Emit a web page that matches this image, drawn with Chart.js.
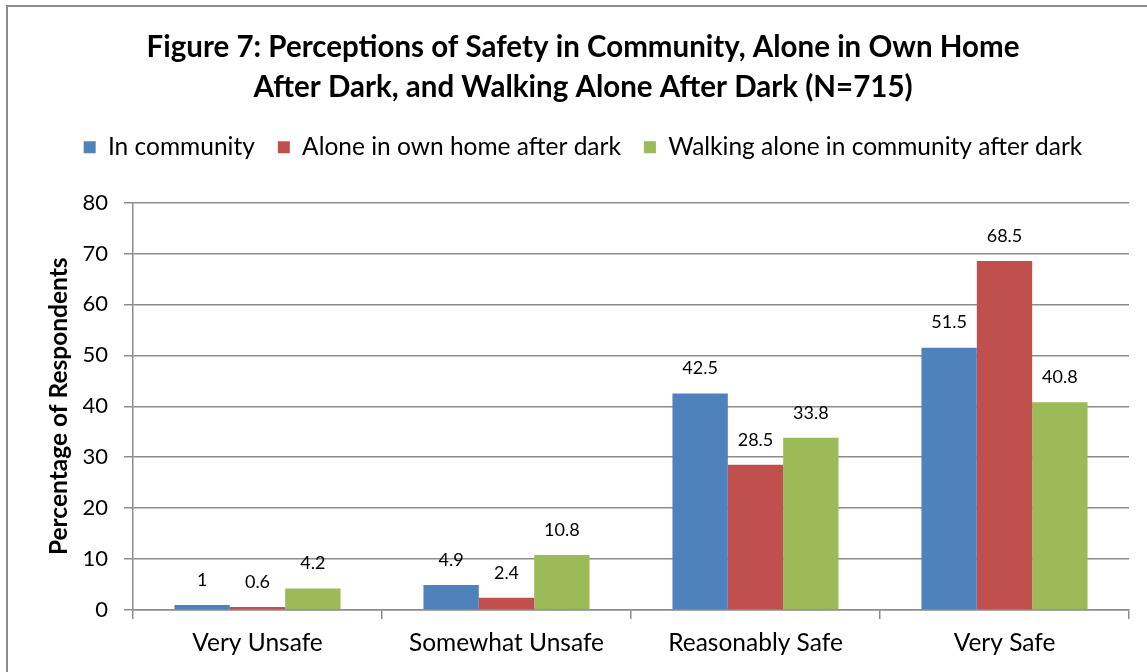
<!DOCTYPE html>
<html>
<head>
<meta charset="utf-8">
<script src="https://cdn.jsdelivr.net/npm/chart.js@4"></script>
<style>
  html, body { margin: 0; padding: 0; background: #fff; overflow: hidden; }
  .frame {
    position: absolute; left: 6px; top: 5px; width: 1200px; height: 720px;
    border: 2px solid #8c8c8c; box-sizing: border-box;
  }
  .wrap { position: absolute; left: 0; top: 0; width: 1147px; height: 672px; }
</style>
</head>
<body>
<div class="frame"></div>
<div class="wrap"><canvas id="safetyChart"></canvas></div>
<script>
const categories = ['Very Unsafe', 'Somewhat Unsafe', 'Reasonably Safe', 'Very Safe'];
const inCommunity = [1, 4.9, 42.5, 51.5];
const aloneAtHome = [0.6, 2.4, 28.5, 68.5];
const walkingAlone = [4.2, 10.8, 33.8, 40.8];
const seriesNames = ['In community', 'Alone in own home after dark', 'Walking alone in community after dark'];
const seriesColors = ['#4f81bd', '#c0504d', '#9bbb59'];
const titleLines = [
  'Figure 7: Perceptions of Safety in Community, Alone in Own Home',
  'After Dark, and Walking Alone After Dark (N=715)',
];

const FONT = 'Lato, Calibri, sans-serif';
const GRID = '#8c8c8c';

// value labels above each bar
const barValues = {
  id: 'barValues',
  afterDatasetsDraw(chart) {
    const { ctx } = chart;
    ctx.save();
    ctx.font = `18px ${FONT}`;
    ctx.fillStyle = '#000';
    ctx.textAlign = 'center';
    ctx.textBaseline = 'middle';
    chart.data.datasets.forEach((ds, i) => {
      chart.getDatasetMeta(i).data.forEach((bar, j) => {
        ctx.fillText(String(ds.data[j]), bar.x, bar.y - 25);
      });
    });
    ctx.restore();
  },
};

// extra room under the legend
const legendGap = {
  id: 'legendGap',
  beforeInit(chart) {
    const fit = chart.legend.fit;
    chart.legend.fit = function () {
      fit.bind(chart.legend)();
      this.height += 33;
    };
  },
};

new Chart(document.getElementById('safetyChart'), {
  type: 'bar',
  data: {
    labels: categories,
    datasets: [inCommunity, aloneAtHome, walkingAlone].map((data, i) => ({
      label: seriesNames[i],
      data,
      backgroundColor: seriesColors[i],
      borderWidth: 0,
      categoryPercentage: 0.667,
      barPercentage: 1,
    })),
  },
  options: {
    responsive: true,
    maintainAspectRatio: false,
    animation: false,
    layout: { padding: { left: 37, right: 18, top: 0, bottom: 0 } },
    plugins: {
      title: {
        display: true,
        text: titleLines,
        color: '#000',
        font: { family: FONT, size: 29.5, weight: 'bold', lineHeight: 40 / 29.5 },
        padding: { top: 27, bottom: 5 },
      },
      legend: {
        display: true,
        labels: {
          color: '#000',
          font: { family: FONT, size: 24.5 },
          boxWidth: 12,
          boxHeight: 12,
          padding: 23,
        },
      },
      tooltip: { enabled: false },
    },
    scales: {
      x: {
        grid: {
          display: true,
          drawOnChartArea: false,
          drawTicks: true,
          tickLength: 9,
          color: GRID,
          lineWidth: 1.5,
          offset: true,
        },
        border: { display: true, color: GRID, width: 1.5 },
        ticks: { color: '#000', font: { family: FONT, size: 24.5 }, padding: 9 },
        afterFit(scale) { scale.height = 62; },
      },
      y: {
        min: 0,
        max: 80,
        ticks: { stepSize: 10, color: '#000', font: { family: FONT, size: 22 }, padding: 16 },
        grid: { color: GRID, lineWidth: 1.5, tickLength: 9 },
        border: { display: true, color: GRID, width: 1.5 },
        title: {
          display: true,
          text: 'Percentage of Respondents',
          color: '#000',
          font: { family: FONT, size: 24.5, weight: 'bold' },
          padding: { top: 7, bottom: 0 },
        },
        afterFit(scale) { scale.width = 96; },
      },
    },
  },
  plugins: [barValues, legendGap],
});
</script>
</body>
</html>
